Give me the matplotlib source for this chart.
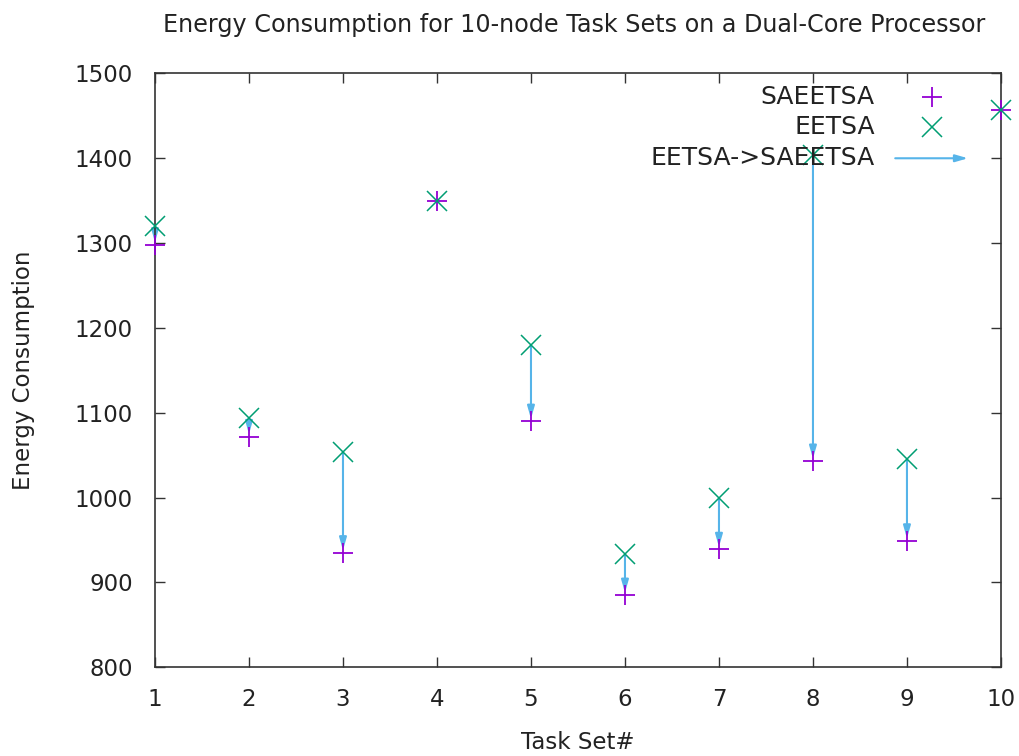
#! /usr/bin/env python

import matplotlib
matplotlib.use('Agg')
import matplotlib.pyplot as plt

# data
task_sets = [1, 2, 3, 4, 5, 6, 7, 8, 9, 10]
eetsa = [1320, 1094, 1054, 1349, 1180, 933, 999, 1404, 1045, 1457]
saeetsa = [1298, 1072, 935, 1349, 1090, 885, 939, 1043, 949, 1457]

purple = '#9400d3'
green = '#009e73'
blue = '#56b4e9'
ink = '#222222'

plt.rcParams['font.family'] = ['DejaVu Sans']
plt.rcParams['font.size'] = 16.5

fig = plt.figure(figsize=(10.19, 7.56), dpi=100)
ax = fig.add_axes([0.1521, 0.1173, 0.8302, 0.7857])

head = '-|>,head_length=0.45,head_width=0.13'

# vectors EETSA -> SAEETSA
for x, y0, y1 in zip(task_sets, eetsa, saeetsa):
    if y0 != y1:
        ax.annotate('', xy=(x, y1 + 3), xytext=(x, y0),
                    arrowprops=dict(arrowstyle=head, color=blue, lw=1.5,
                                    shrinkA=0, shrinkB=0),
                    zorder=2)

ax.plot(task_sets, saeetsa, linestyle='none', marker='+', markersize=15,
        markeredgewidth=1.3, color=purple, zorder=3, clip_on=False)
ax.plot(task_sets, eetsa, linestyle='none', marker='x', markersize=15,
        markeredgewidth=1.1, color=green, zorder=3, clip_on=False)

ax.set_xlim(1, 10)
ax.set_ylim(800, 1500)
ax.set_xticks(task_sets)
ax.set_yticks(range(800, 1501, 100))
ax.tick_params(direction='in', length=7, width=1, colors='#333333',
               labelcolor=ink, top=True, right=True)
ax.tick_params(axis='y', pad=16)
ax.tick_params(axis='x', pad=15)
for s in ax.spines.values():
    s.set_color('#333333')
    s.set_linewidth(1.2)

ax.set_xlabel('Task Set#', color=ink, va='center')
ax.xaxis.set_label_coords(0.5, -0.126)
ax.set_ylabel('Energy Consumption', color=ink, va='center')
ax.yaxis.set_label_coords(-0.155, 0.5)
fig.text(0.563, 0.967, 'Energy Consumption for 10-node Task Sets on a Dual-Core Processor',
         ha='center', va='center', color=ink, fontsize=17.2)

# key, gnuplot style: right aligned text, sample on the right
tx = 0.851
rows = [0.960, 0.909, 0.857]
key_font = 18
ax.text(tx, rows[0], 'SAEETSA', transform=ax.transAxes, ha='right', va='center',
        color=ink, fontsize=key_font)
ax.text(tx, rows[1], 'EETSA', transform=ax.transAxes, ha='right', va='center',
        color=ink, fontsize=key_font)
ax.text(tx, rows[2], 'EETSA->SAEETSA', transform=ax.transAxes, ha='right', va='center',
        color=ink, fontsize=key_font)
ax.plot([0.918], [rows[0]], marker='+', markersize=15, markeredgewidth=1.3,
        color=purple, transform=ax.transAxes)
ax.plot([0.918], [rows[1]], marker='x', markersize=15, markeredgewidth=1.1,
        color=green, transform=ax.transAxes)
ax.annotate('', xy=(0.961, rows[2]), xytext=(0.875, rows[2]),
            xycoords='axes fraction', textcoords='axes fraction',
            arrowprops=dict(arrowstyle=head, color=blue, lw=1.5,
                            shrinkA=0, shrinkB=0))

plt.savefig('out.png', dpi=100)
